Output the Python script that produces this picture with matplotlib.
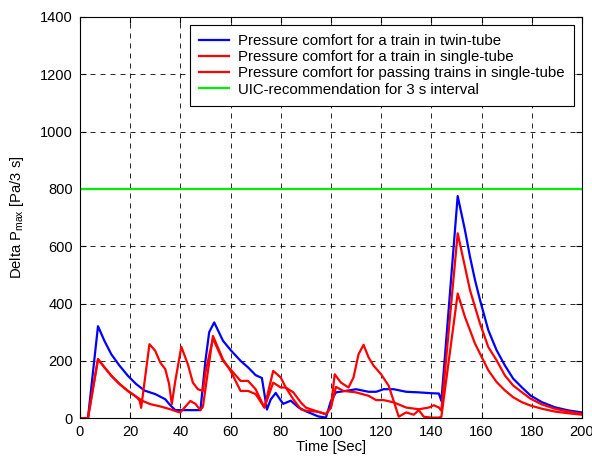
import matplotlib
matplotlib.use("Agg")
import matplotlib.pyplot as plt

plt.rcParams["font.family"] = ["Liberation Sans", "DejaVu Sans"]

# twin-tube, one train (blue)
t_twin = [0, 3.2, 7.2, 9.8, 12.5, 15.8, 19.1, 22.4, 25.8, 30, 34, 36, 38, 40, 48, 50, 51.5,
          53.5, 57, 60, 64, 67, 70, 72.5, 74.5, 76, 78, 80, 81, 84, 87, 90, 95, 98, 100, 102,
          108, 110, 115, 118, 121, 125, 130, 135, 140, 143, 144, 150.5, 153.4, 155.4, 157.4,
          159.4, 162.7, 166, 169.3, 172.6, 176, 179.5, 184, 189.2, 194.6, 200]
p_twin = [0, 0, 321, 269, 223, 183, 148, 119, 96, 84, 66, 45, 28, 28, 28, 200, 300,
          334, 270, 238, 200, 177, 150, 140, 30, 65, 88, 62, 50, 61, 38, 24, 6, 2, 60, 90,
          98, 101, 92, 92, 101, 101, 92, 90, 87, 86, 60, 775, 656, 563, 482,
          412, 307, 237, 184, 138, 108, 79, 56, 38, 27, 20]

# single-tube, one train (red)
t_single = [0, 3.2, 7.2, 9.8, 12.5, 15.8, 19.1, 22.4, 25, 28, 32, 36, 39, 40, 44, 46, 48, 49,
            53, 57, 60, 64, 67, 70, 73.5, 77, 80, 82, 85, 88, 90, 95, 98, 100, 102, 105, 110,
            115, 118, 121, 125, 130, 135, 139, 141, 143, 144, 150.5, 153.4, 155.4, 157.4,
            159.4, 162.7, 166, 169.3, 172.6, 176, 179.5, 184, 189.2, 194.6, 200]
p_single = [0, 0, 206, 177, 148, 119, 95, 75, 60, 49, 41, 31, 22, 20, 60, 50, 28, 40,
            287, 205, 165, 95, 95, 84, 37, 124, 107, 107, 90, 55, 37, 22, 14, 37, 109, 95, 90,
            78, 63, 63, 55, 37, 31, 37, 45, 37, 26, 645, 528, 447, 388,
            330, 248, 202, 149, 114, 91, 68, 48, 33, 23, 15]

# single-tube, passing trains (red)
t_pass = [0, 3.2, 7.2, 9.8, 12.5, 15.8, 19.1, 22.4, 23.8, 24.4, 27.7, 30, 32, 34, 35.5, 36.6,
          38, 40.4, 43, 45, 47, 49, 50, 53, 57, 60, 64, 67, 70, 73.5, 77, 80, 82, 85, 88, 90,
          95, 98, 100, 101.5, 104, 107, 109, 111, 113, 115, 117, 120, 123, 125, 127, 130, 133,
          135, 137, 140, 143, 144, 150.5, 153.4, 155.4, 157.4, 159.4, 162.7, 166, 169.3,
          172.6, 176, 179.5, 184, 189.2, 194.6, 200]
p_pass = [0, 0, 206, 177, 148, 119, 95, 75, 61, 36, 258, 235, 194, 171, 120, 49,
          130, 249, 188, 124, 101, 95, 160, 278, 200, 170, 130, 130, 101, 37, 165, 142, 107, 66,
          31, 26, 22, 14, 37, 153, 124, 107, 142, 223, 256, 212, 183, 153, 113, 60, 5, 20, 12,
          28, 5, 2, 2, 5, 435, 353, 307, 260, 225, 167, 126, 97,
          73, 56, 44, 33, 23, 17, 12]

uic_t = [0, 200]
uic_p = [800, 800]

labels = ["Pressure comfort for a train in twin-tube",
          "Pressure comfort for a train in single-tube",
          "Pressure comfort for passing trains in single-tube",
          "UIC-recommendation for 3 s interval"]

fig = plt.figure(figsize=(5.92, 4.57), dpi=100)
ax = fig.add_axes([0.135, 0.085, 0.848, 0.878])

ax.plot(t_twin, p_twin, color="#0000ff", lw=1.6, label=labels[0])
ax.plot(t_single, p_single, color="#ff0000", lw=1.6, label=labels[1])
ax.plot(t_pass, p_pass, color="#ff0000", lw=1.6, label=labels[2])
ax.plot(uic_t, uic_p, color="#00ee00", lw=1.6, label=labels[3])

ax.set_xlim(0, 200)
ax.set_ylim(0, 1400)
ax.set_xticks(range(0, 201, 20))
ax.set_yticks(range(0, 1401, 200))
ax.grid(True, color="black", linestyle=(0, (6, 6)), linewidth=0.6)
ax.tick_params(direction="in", top=True, right=True, labelsize=10.5, length=4, pad=5)
for s in ax.spines.values():
    s.set_linewidth(0.8)

ax.set_xlabel("Time [Sec]", fontsize=10.6, labelpad=1)
ax.set_ylabel("Delta P$_{\\mathregular{max}}$ [Pa/3 s]", fontsize=10.6, labelpad=10)

leg = ax.legend(loc="upper right", fontsize=10.8, fancybox=False, framealpha=1,
                edgecolor="black", handlelength=2.0, handletextpad=0.6, borderpad=0.6,
                labelspacing=0.15, borderaxespad=0, bbox_to_anchor=(0.984, 0.980))
leg.get_frame().set_linewidth(0.8)

fig.savefig("out.png", dpi=100)
